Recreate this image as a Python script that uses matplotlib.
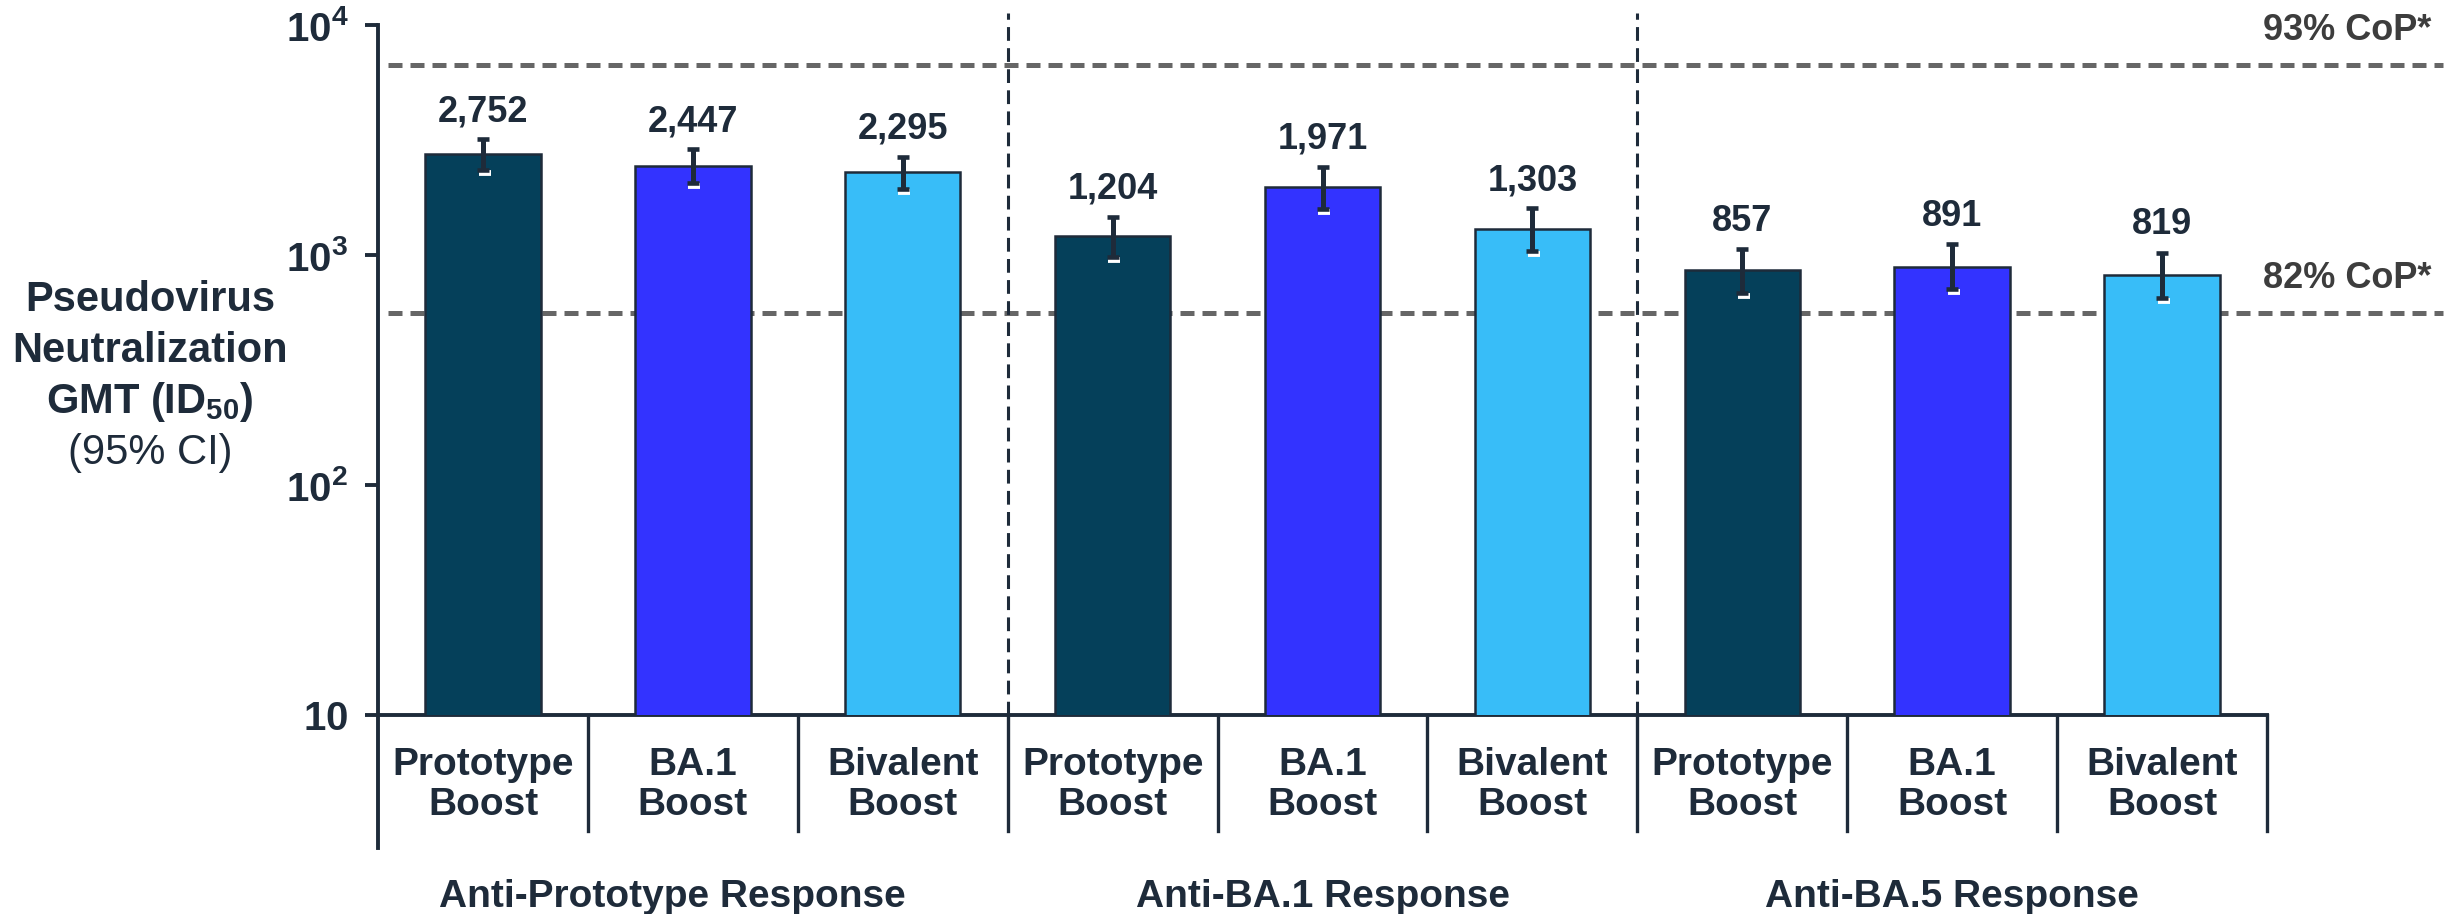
import numpy as np
import matplotlib
matplotlib.use("Agg")
import matplotlib.pyplot as plt
from matplotlib import transforms
from matplotlib.ticker import NullLocator

plt.rcParams["font.family"] = ["Liberation Sans", "DejaVu Sans"]
plt.rcParams["mathtext.fontset"] = "custom"
plt.rcParams["mathtext.rm"] = "Liberation Sans"
plt.rcParams["mathtext.bf"] = "Liberation Sans:bold"

# pseudovirus neutralization GMTs with 95% CI, grouped by response
groups = ["Anti-Prototype Response", "Anti-BA.1 Response", "Anti-BA.5 Response"]
boosts = ["Prototype\nBoost", "BA.1\nBoost", "Bivalent\nBoost"]
gmt = [2752, 2447, 2295, 1204, 1971, 1303, 857, 891, 819]
ci_low = [2342, 2063, 1936, 983, 1585, 1044, 685, 710, 649]
ci_high = [3184, 2882, 2676, 1468, 2421, 1596, 1059, 1113, 1024]
cop_levels = [6700, 560]
cop_labels = ["93% CoP*", "82% CoP*"]
ytick_vals = [10, 100, 1000, 10000]
ytick_labels = [r"$\mathbf{10}$", r"$\mathbf{10^2}$", r"$\mathbf{10^3}$", r"$\mathbf{10^4}$"]

TEXT = "#1e2b3a"
boost_colors = ["#05405a", "#3333ff", "#38bdf8"]

fig = plt.figure(figsize=(2463 / 100, 914 / 100), dpi=100)
ax = fig.add_axes([0.1535, 0.2177, 0.7669, 0.7549])

x = np.arange(len(gmt))
colors = boost_colors * len(groups)
ax.bar(x, gmt, width=0.55, color=colors, edgecolor=TEXT, linewidth=1.8, zorder=3)

ax.set_yscale("log")
ax.set_ylim(10, 1e4)
ax.set_xlim(-0.5, len(gmt) - 0.5)

# error bars, with a thin white rim under the lower cap
g = np.array(gmt)
yerr = [g - np.array(ci_low), np.array(ci_high) - g]
shift = transforms.offset_copy(ax.transData, fig=fig, x=1.5, y=-3, units="dots")
ax.plot(x, ci_low, ls="none", marker="_", ms=9, mew=4.2, color="white",
        transform=shift, zorder=4)
ax.errorbar(x, gmt, yerr=yerr, fmt="none", ecolor=TEXT, elinewidth=3.6,
            capsize=4.3, capthick=3.3, zorder=5)

for xi, hi, v in zip(x, ci_high, gmt):
    ax.annotate(f"{v:,}", (xi, hi), xytext=(0, 20), textcoords="offset points",
                ha="center", va="center", fontsize=26, fontweight="bold", color=TEXT)

# correlate-of-protection thresholds
for level, label in zip(cop_levels, cop_labels):
    ax.axhline(level, xmin=0.005, xmax=1.093, color="#666666", lw=3.6,
               ls=(0, (2.8, 1.6)), clip_on=False, zorder=1)
    ax.annotate(label, xy=(1.087, level), xycoords=ax.get_yaxis_transform(),
                xytext=(0, 25), textcoords="offset points", ha="right", va="center",
                fontsize=26, fontweight="bold", color="#3d3d3d", annotation_clip=False)

# group separators above the axis, category brackets below it
for b in [2.5, 5.5]:
    ax.axvline(b, ymin=0, ymax=1.017, color=TEXT, lw=2.2, ls=(0, (4.5, 2.4)),
               clip_on=False, zorder=2)
for b in np.arange(0.5, len(gmt)):
    ax.axvline(b, ymin=-0.168, ymax=0, color=TEXT, lw=2.4, clip_on=False)
ax.axvline(-0.5, ymin=-0.193, ymax=0, color=TEXT, lw=2.8, clip_on=False)

for side in ["top", "right"]:
    ax.spines[side].set_visible(False)
for side in ["left", "bottom"]:
    ax.spines[side].set_linewidth(2.8)
    ax.spines[side].set_color(TEXT)

ax.set_yticks(ytick_vals)
ax.set_yticklabels(ytick_labels)
ax.yaxis.set_minor_locator(NullLocator())
ax.tick_params(axis="y", length=9.5, width=2.8, color=TEXT, labelcolor=TEXT,
               labelsize=29, pad=12)
ax.set_xticks([])

xt = ax.get_xaxis_transform()
for xi, lab in zip(x, boosts * len(groups)):
    ax.text(xi, -0.1014, lab, transform=xt, ha="center", va="center",
            fontsize=28, fontweight="bold", color=TEXT, linespacing=1.15)
for cx, name in zip([0.9, 4, 7], groups):
    ax.text(cx, -0.264, name, transform=xt, ha="center", va="center",
            fontsize=28, fontweight="bold", color=TEXT)

# y axis title
H = 914
ylab_x = 150 / 2463
for text, ypix, weight in [("Pseudovirus", 300, "bold"),
                           ("Neutralization", 351, "bold"),
                           (r"GMT (ID$_{\mathbf{50}}$)", 402, "bold"),
                           ("(95% CI)", 453, "normal")]:
    fig.text(ylab_x, 1 - ypix / H, text, ha="center", va="center",
             fontsize=30, fontweight=weight, color=TEXT)

fig.savefig("out.png", dpi=100)
